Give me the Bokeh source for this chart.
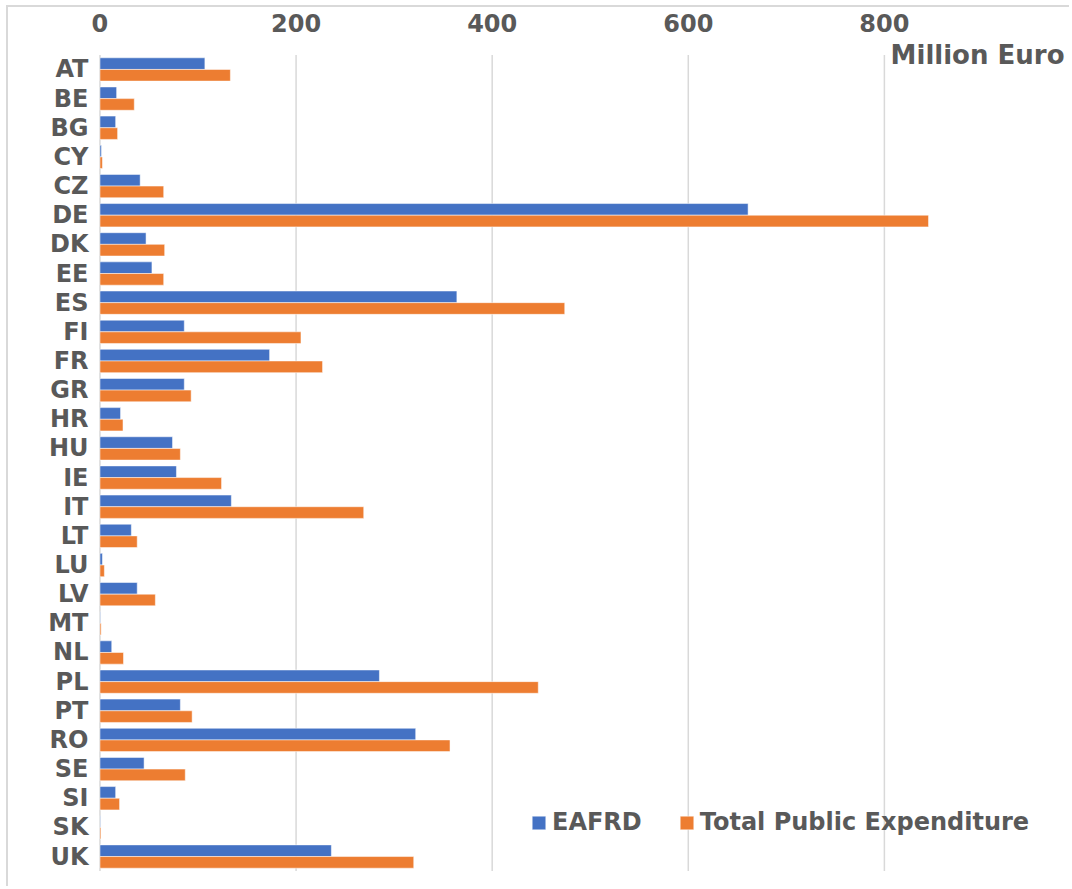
from bokeh.plotting import figure
from bokeh.models import (FactorRange, Range1d, FixedTicker, Legend, LegendItem,
                          Label, ColumnDataSource)
from bokeh.transform import dodge
from bokeh.embed import file_html
from bokeh.resources import INLINE

countries = ["AT", "BE", "BG", "CY", "CZ", "DE", "DK", "EE", "ES", "FI", "FR", "GR",
             "HR", "HU", "IE", "IT", "LT", "LU", "LV", "MT", "NL", "PL", "PT", "RO",
             "SE", "SI", "SK", "UK"]
eafrd = [107, 17, 16, 1.5, 41, 661, 47, 53, 364, 86, 173, 86,
         21, 74, 78, 134, 32, 2.5, 38, 0.5, 12, 285, 82, 322,
         45, 16, 0.5, 236]
total_public = [133, 35, 18, 2.5, 65, 845, 66, 65, 474, 205, 227, 93,
                23.5, 82, 124, 269, 38, 4.5, 56.5, 1.2, 24, 447, 94, 357,
                87, 20, 1.0, 320]
x_ticks = [0, 200, 400, 600, 800]
unit_label = "Million Euro"
series_names = ["EAFRD", "Total Public Expenditure"]

FONT = "DejaVu Sans"
TXT = "#595959"
GRID = "#D9D9D9"
N = len(countries)

src = ColumnDataSource(dict(country=countries, eafrd=eafrd, tpe=total_public))
grid_src = ColumnDataSource(dict(x=x_ticks, y0=[0] * len(x_ticks), y1=[N] * len(x_ticks)))

p = figure(width=1063, height=881,
           y_range=FactorRange(factors=countries[::-1], range_padding=0.0279),
           x_range=Range1d(-1.5, 984.7),
           x_axis_location="above",
           output_backend="svg", toolbar_location=None,
           min_border_left=90, min_border_right=6,
           min_border_top=36, min_border_bottom=6)
p.styles = {"margin-left": "6px", "margin-top": "5px",
            "border-left": "2px solid #D9D9D9", "border-top": "2px solid #D9D9D9"}

# vertical gridlines (value axis) spanning only the category area
p.segment(x0="x", x1="x", y0="y0", y1="y1", source=grid_src,
          line_color=GRID, line_width=1.5)

r1 = p.hbar(y=dodge("country", 0.2, range=p.y_range), left=0, right="eafrd",
            height=0.4, source=src, fill_color="#4472C4",
            line_color="white", line_alpha=0.5, line_width=1)
r2 = p.hbar(y=dodge("country", -0.2, range=p.y_range), left=0, right="tpe",
            height=0.4, source=src, fill_color="#ED7D31",
            line_color="white", line_alpha=0.5, line_width=1)

p.xaxis.ticker = FixedTicker(ticks=x_ticks)
p.xaxis.axis_line_color = None
p.xaxis.major_tick_line_color = None
p.xaxis.minor_tick_line_color = None
p.xaxis.major_label_standoff = 6
p.xaxis.major_label_text_font = FONT
p.xaxis.major_label_text_font_style = "bold"
p.xaxis.major_label_text_font_size = "24px"
p.xaxis.major_label_text_color = TXT

p.yaxis.axis_line_color = None
p.yaxis.major_tick_line_color = None
p.yaxis.minor_tick_line_color = None
p.yaxis.major_label_standoff = 4
p.yaxis.major_label_text_font = FONT
p.yaxis.major_label_text_font_style = "bold"
p.yaxis.major_label_text_font_size = "24px"
p.yaxis.major_label_text_color = TXT

p.xgrid.grid_line_color = None
p.ygrid.grid_line_color = None
p.outline_line_color = None

p.add_layout(Label(x=984.7, y=N, text=unit_label, text_align="right",
                   text_baseline="middle", x_offset=-1,
                   text_font=FONT, text_font_style="bold",
                   text_font_size="26px", text_color=TXT))

legend = Legend(items=[LegendItem(label=series_names[0], renderers=[r1]),
                       LegendItem(label=series_names[1], renderers=[r2])],
                orientation="horizontal", location=(432, 46),
                glyph_width=17, glyph_height=17, label_standoff=5, spacing=36,
                padding=0, margin=0, background_fill_alpha=0, border_line_color=None,
                label_text_font=FONT, label_text_font_style="bold",
                label_text_font_size="24px", label_text_color=TXT)
p.add_layout(legend)

open("out.html", "w").write(file_html(p, INLINE))
